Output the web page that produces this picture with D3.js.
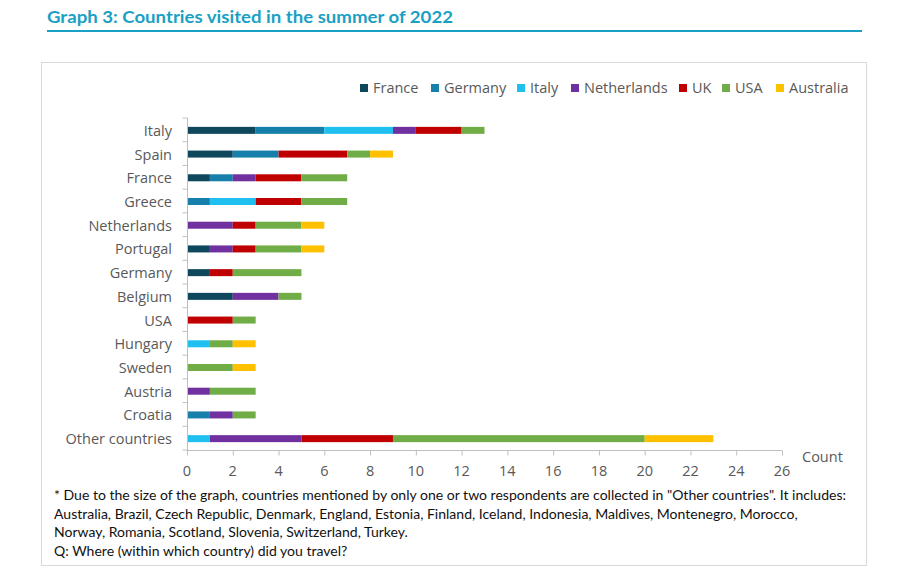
<!DOCTYPE html>
<html><head><meta charset="utf-8">
<script src="https://cdn.jsdelivr.net/npm/d3@7"></script>
<style>body{margin:0;background:#fff;font-family:Lato,"Open Sans",sans-serif}</style>
</head><body><svg id="c" width="905" height="588"></svg>
<script>
const categories=["Italy","Spain","France","Greece","Netherlands","Portugal","Germany","Belgium","USA","Hungary","Sweden","Austria","Croatia","Other countries"];
const seriesNames=["France","Germany","Italy","Netherlands","UK","USA","Australia"];
const seriesColors=["#0f475c","#1680aa","#1fc0f0","#7030a0","#c00000","#70ad47","#ffc000"];
const franceVals=[3,2,1,0,0,1,1,2,0,0,0,0,0,0];
const germanyVals=[3,2,1,1,0,0,0,0,0,0,0,0,1,0];
const italyVals=[3,0,0,2,0,0,0,0,0,1,0,0,0,1];
const netherlandsVals=[1,0,1,0,2,1,0,2,0,0,0,1,1,4];
const ukVals=[2,3,2,2,1,1,1,0,2,0,0,0,0,4];
const usaVals=[1,1,2,2,2,2,3,1,1,1,2,2,1,11];
const australiaVals=[0,1,0,0,1,1,0,0,0,1,1,0,0,3];
const xTicks=[0,2,4,6,8,10,12,14,16,18,20,22,24,26];
const footnote=['* Due to the size of the graph, countries mentioned by only one or two respondents are collected in "Other countries". It includes:',
'Australia, Brazil, Czech Republic, Denmark, England, Estonia, Finland, Iceland, Indonesia, Maldives, Montenegro, Morocco,',
'Norway, Romania, Scotland, Slovenia, Switzerland, Turkey.',
'Q: Where (within which country) did you travel?'];
const allVals=[franceVals,germanyVals,italyVals,netherlandsVals,ukVals,usaVals,australiaVals];
const rows=categories.map((c,i)=>{const r={cat:c};seriesNames.forEach((s,j)=>r[s]=allVals[j][i]);return r;});

const svg=d3.select("#c");
const labelFont="'Open Sans',sans-serif";
// title
svg.append("text").attr("x",47).attr("y",23).attr("fill","#1aa0c4").attr("font-weight","bold")
 .attr("font-size",17).attr("font-family","Lato,sans-serif").attr("textLength",406).attr("lengthAdjust","spacingAndGlyphs")
 .text("Graph 3: Countries visited in the summer of 2022");
svg.append("line").attr("x1",47).attr("x2",862).attr("y1",31).attr("y2",31).attr("stroke","#1aa0c4").attr("stroke-width",2);
// box
svg.append("rect").attr("x",41.5).attr("y",62.5).attr("width",825).attr("height",503).attr("fill","none").attr("stroke","#d9d9d9");

const x=d3.scaleLinear().domain([0,26]).range([187,782]);
const y=d3.scaleBand().domain(categories).range([118,450]).paddingInner(0).paddingOuter(0);
const stack=d3.stack().keys(seriesNames)(rows);
const bh=7;
const g=svg.append("g");
stack.forEach((layer,j)=>{
 g.selectAll(null).data(layer.filter(d=>d[1]>d[0])).enter().append("rect")
  .attr("x",d=>x(d[0])).attr("width",d=>x(d[1])-x(d[0]))
  .attr("y",d=>y(d.data.cat)+y.bandwidth()/2-bh/2+0.5).attr("height",bh)
  .attr("fill",seriesColors[j]);
});
// y axis
const ya=svg.append("g").attr("transform","translate(187.5,0)");
ya.append("line").attr("y1",118).attr("y2",450).attr("stroke","#bfbfbf");
ya.selectAll(".t").data(d3.range(categories.length+1)).enter().append("line")
 .attr("x1",-5).attr("x2",0).attr("y1",i=>118+i*y.step()).attr("y2",i=>118+i*y.step()).attr("stroke","#bfbfbf");
ya.selectAll("text").data(categories).enter().append("text")
 .attr("x",-15.5).attr("y",d=>y(d)+y.bandwidth()/2+6).attr("text-anchor","end")
 .attr("font-size",14.5).attr("fill","#595959").attr("font-family",labelFont).text(d=>d);
// x axis
const xa=svg.append("g").attr("transform","translate(0,450.5)");
xa.append("line").attr("x1",187).attr("x2",782).attr("stroke","#bfbfbf");
xa.selectAll("line.t").data(xTicks).enter().append("line").attr("class","t")
 .attr("x1",d=>x(d)+0.5).attr("x2",d=>x(d)+0.5).attr("y1",0).attr("y2",5).attr("stroke","#bfbfbf");
xa.selectAll("text").data(xTicks).enter().append("text")
 .attr("x",d=>x(d)).attr("y",25).attr("text-anchor","middle")
 .attr("font-size",14.5).attr("fill","#595959").attr("font-family",labelFont).text(d=>d);
svg.append("text").attr("x",802).attr("y",462).attr("font-size",14.5).attr("fill","#595959")
 .attr("font-family",labelFont).text("Count");
// legend
const legX=[360,431,517,571,679,722,776];
const leg=svg.append("g");
seriesNames.forEach((s,j)=>{
 leg.append("rect").attr("x",legX[j]).attr("y",84).attr("width",8).attr("height",8).attr("fill",seriesColors[j]);
 leg.append("text").attr("x",legX[j]+13).attr("y",93).attr("font-size",14.5).attr("fill","#595959")
  .attr("font-family",labelFont).text(s);
});
// footnote: compress all lines by the same factor so line 1 spans 54..846
const fts=footnote.map((t,i)=>svg.append("text").attr("x",54).attr("y",500+i*18.7).attr("font-size",13.5).attr("fill","#111")
  .attr("font-family","Lato,sans-serif").text(t));
const k=792/fts[0].node().getComputedTextLength();
fts.forEach(tx=>{const w=tx.node().getComputedTextLength();tx.attr("textLength",w*k).attr("lengthAdjust","spacingAndGlyphs");});
</script></body></html>
